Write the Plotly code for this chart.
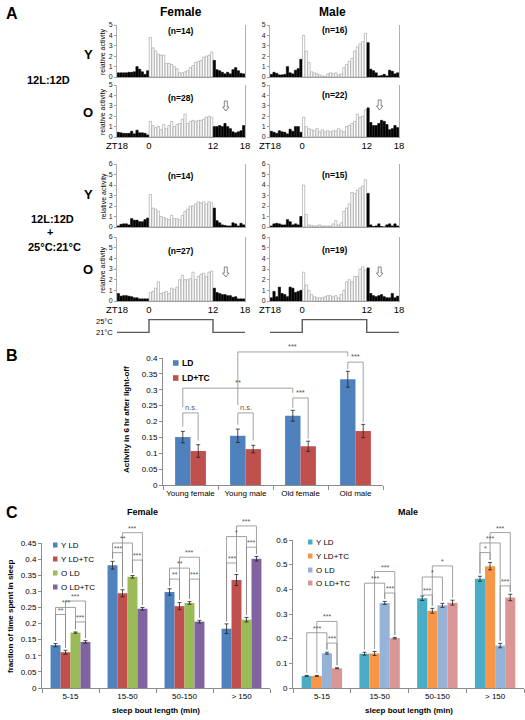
import plotly.graph_objects as go

W, H = 525, 720
FONT = "Liberation Sans, Arial, Helvetica, sans-serif"


def PX(v):
    return v / W


def PY(v):
    return 1 - v / H


# ---------------- Panel A data (relative activity, 30-min bins from ZT18) ----------------
zt_tick_hours = [0, 6, 18, 24]
zt_tick_labels = ["ZT18", "0", "12", "18"]
bin_hours = [i * 0.5 + 0.25 for i in range(48)]
lights_on = [6, 18]

female_young_ld = [0.4, 0.4, 0.4, 0.4, 0.45, 0.45, 0.5, 1.0, 0.75, 0.5, 0.25, 0.6,
                   3.8, 2.8, 2.5, 2.2, 2.1, 2.1, 1.3, 1.3, 1.2, 1.0, 0.8, 0.4,
                   0.4, 0.5, 0.6, 0.9, 1.1, 1.4, 1.5, 1.6, 1.9, 2.0, 2.1, 2.4,
                   1.6, 0.7, 0.6, 0.45, 0.3, 0.45, 0.3, 0.7, 0.9, 0.6, 0.35, 0.3]
female_old_ld = [0.45, 0.4, 0.35, 0.35, 0.35, 0.55, 0.3, 0.65, 0.4, 0.4, 0.35, 0.2,
                 1.5, 1.1, 0.9, 1.0, 0.7, 1.2, 0.8, 1.1, 1.5, 1.0, 1.2, 1.3,
                 1.7, 2.2, 1.3, 1.5, 1.6, 1.5, 1.6, 1.6, 1.7, 1.9, 2.0, 1.9,
                 1.0, 1.0, 1.1, 1.0, 1.3, 1.0, 0.8, 0.5, 0.4, 0.5, 0.6, 1.1]
male_young_ld = [0.25, 0.45, 0.35, 0.2, 0.2, 0.25, 1.0, 0.4, 0.3, 0.65, 0.8, 1.7,
                 4.0, 2.5, 1.4, 0.5, 0.4, 0.3, 0.2, 0.1, 0.05, 0.3, 0.4, 0.3,
                 0.4, 0.2, 0.3, 0.9, 1.2, 1.5, 1.8, 2.5, 2.9, 3.2, 3.4, 4.2,
                 3.3, 0.75, 0.6, 0.4, 0.1, 0.15, 0.25, 0.1, 0.65, 0.55, 0.3, 0.4]
male_old_ld = [0.55, 0.45, 0.35, 0.6, 0.5, 0.45, 0.3, 0.75, 0.55, 1.0, 1.0, 0.45,
               1.9, 1.0, 0.8, 0.7, 0.6, 0.8, 0.5, 0.7, 0.5, 0.6, 0.5, 0.6,
               0.6, 0.8, 0.6, 0.5, 1.0, 1.1, 1.3, 1.5, 2.2, 1.9, 2.0, 2.6,
               2.8, 1.4, 1.1, 1.1, 1.3, 1.6, 1.5, 1.2, 0.7, 0.8, 1.1, 0.9]
female_young_tc = [0.1, 0.25, 0.3, 0.3, 0.2, 0.8, 0.65, 0.65, 0.5, 0.5, 0.7, 0.85,
                   3.1, 1.8, 1.7, 1.5, 1.0, 0.9, 0.8, 0.7, 1.1, 0.8, 0.8, 0.7,
                   1.1, 1.5, 1.7, 2.0, 2.0, 2.2, 2.4, 2.3, 2.4, 2.2, 2.4, 2.3,
                   1.8, 0.6, 0.4, 0.2, 0.15, 0.1, 0.1, 0.4, 0.3, 0.1, 0.35, 0.2]
female_old_tc = [0.7, 0.45, 0.5, 0.5, 0.45, 0.4, 0.3, 0.3, 0.2, 0.2, 0.2, 0.2,
                 0.8, 0.9, 1.2, 1.8, 0.7, 0.8, 0.9, 0.7, 1.2, 1.1, 1.3, 2.0,
                 2.4, 2.0, 2.0, 2.1, 2.7, 2.0, 2.3, 2.5, 2.6, 2.3, 2.7, 2.8,
                 1.2, 0.8, 0.7, 0.6, 0.6, 0.5, 0.5, 0.35, 0.4, 0.2, 0.2, 0.2]
male_young_tc = [0.1, 0.3, 0.35, 0.3, 0.2, 0.2, 0.7, 0.5, 0.2, 0.3, 0.2, 1.0,
                 4.0, 1.2, 0.2, 0.15, 0.1, 0.1, 0.2, 0.1, 0.1, 0.1, 0.1, 0.3,
                 0.6, 0.2, 0.4, 1.5, 1.8, 2.2, 3.3, 3.2, 3.5, 3.7, 3.9, 4.5,
                 3.2, 0.2, 0.05, 0.1, 0.3, 0.05, 0.0, 0.2, 0.3, 0.1, 0.3, 0.1]
male_old_tc = [0.3, 0.9, 0.4, 1.3, 0.7, 0.6, 0.4, 1.3, 1.2, 0.8, 0.9, 1.0,
               2.7, 1.5, 1.0, 0.6, 0.4, 0.3, 0.3, 0.3, 0.4, 0.5, 0.5, 0.4,
               0.5, 0.3, 0.6, 1.0, 1.8, 2.0, 1.8, 2.3, 2.3, 3.0, 3.2, 2.9,
               3.1, 0.7, 0.5, 0.4, 0.5, 0.6, 0.4, 0.3, 0.3, 0.7, 0.3, 0.45]

temp_hours = [0, 6, 18, 24]
temp_values = [21, 25, 21, 21]

# ---------------- Panel B data ----------------
b_groups = ["Young female", "Young male", "Old female", "Old male"]
b_ld = [0.151, 0.155, 0.218, 0.333]
b_ld_err = [0.018, 0.021, 0.017, 0.025]
b_tc = [0.107, 0.113, 0.122, 0.170]
b_tc_err = [0.020, 0.012, 0.016, 0.021]
b_yticks = [0, 0.05, 0.1, 0.15, 0.2, 0.25, 0.3, 0.35, 0.4]
b_yticklabels = ["0", "0.05", "0.1", "0.15", "0.2", "0.25", "0.3", "0.35", "0.4"]
# (group_a, bar_a, group_b, bar_b, level, label, leg_bottom_a, leg_bottom_b)
b_brackets = [
    (0, 0, 0, 1, 0.227, "n.s.", 0.184, 0.140),
    (1, 0, 1, 1, 0.227, "n.s.", 0.190, 0.140),
    (2, 0, 2, 1, 0.274, "***", 0.243, 0.146),
    (3, 0, 3, 1, 0.387, "***", 0.364, 0.198),
    (0, 0, 2, 0, 0.305, "**", 0.245, 0.290),
    (1, 0, 3, 0, 0.419, "***", 0.252, 0.405),
]

# ---------------- Panel C data ----------------
c_groups = ["5-15", "15-50", "50-150", "> 150"]
c_series = ["Y LD", "Y LD+TC", "O LD", "O LD+TC"]
cf_y_ld = [0.133, 0.381, 0.298, 0.184]
cf_y_ld_err = [0.005, 0.012, 0.010, 0.015]
cf_y_tc = [0.111, 0.294, 0.254, 0.335]
cf_y_tc_err = [0.006, 0.011, 0.011, 0.017]
cf_o_ld = [0.172, 0.345, 0.264, 0.212]
cf_o_ld_err = [0.002, 0.004, 0.004, 0.007]
cf_o_tc = [0.143, 0.246, 0.206, 0.401]
cf_o_tc_err = [0.004, 0.004, 0.004, 0.007]

cm_y_ld = [0.049, 0.139, 0.364, 0.443]
cm_y_ld_err = [0.002, 0.006, 0.009, 0.010]
cm_y_tc = [0.049, 0.140, 0.313, 0.494]
cm_y_tc_err = [0.002, 0.008, 0.010, 0.015]
cm_o_ld = [0.141, 0.345, 0.335, 0.172]
cm_o_ld_err = [0.004, 0.006, 0.008, 0.009]
cm_o_tc = [0.080, 0.202, 0.346, 0.367]
cm_o_tc_err = [0.002, 0.003, 0.010, 0.013]

cf_yticks = [0, 0.05, 0.1, 0.15, 0.2, 0.25, 0.3, 0.35, 0.4, 0.45]
cf_yticklabels = ["0", "0.05", "0.1", "0.15", "0.2", "0.25", "0.3", "0.35", "0.4", "0.45"]
cm_yticks = [0, 0.1, 0.2, 0.3, 0.4, 0.5, 0.6]
cm_yticklabels = ["0", "0.1", "0.2", "0.3", "0.4", "0.5", "0.6"]

# (group, bar_a, bar_b, level, label)
cf_brackets = [
    (0, 0, 1, 0.228, "**"), (0, 0, 2, 0.250, "***"), (0, 1, 3, 0.270, "***"), (0, 2, 3, 0.205, "***"),
    (1, 0, 1, 0.420, "***"), (1, 0, 2, 0.450, "**"), (1, 1, 3, 0.482, "***"), (1, 2, 3, 0.397, "***"),
    (2, 0, 1, 0.338, "**"), (2, 0, 2, 0.372, "**"), (2, 1, 3, 0.406, "***"), (2, 2, 3, 0.338, "***"),
    (3, 0, 1, 0.388, "***"), (3, 0, 2, 0.470, "*"), (3, 1, 3, 0.503, "***"), (3, 2, 3, 0.437, "***"),
]
cm_brackets = [
    (0, 0, 2, 0.224, "***"), (0, 1, 3, 0.270, "***"), (0, 2, 3, 0.182, "***"),
    (1, 0, 2, 0.425, "***"), (1, 1, 3, 0.472, "***"), (1, 2, 3, 0.385, "***"),
    (2, 0, 1, 0.377, "***"), (2, 0, 2, 0.450, "*"), (2, 1, 3, 0.495, "*"),
    (3, 0, 1, 0.549, "*"), (3, 0, 2, 0.588, "***"), (3, 1, 3, 0.630, "***"), (3, 2, 3, 0.414, "***"),
]

# ---------------- styling ----------------
B_COLORS = ["#4F81BD", "#C0504D"]
CF_COLORS = ["#4F81BD", "#C0504D", "#9BBB59", "#8064A2"]
CM_COLORS = ["#4BACC6", "#F79646", "#95B3D7", "#D99694"]
AX_GRAY = "#8c8c8c"

fig = go.Figure()
layout = dict(
    template="none",
    width=W, height=H, autosize=False,
    margin=dict(l=0, r=0, t=0, b=0, pad=0, autoexpand=False),
    paper_bgcolor="white", plot_bgcolor="white", showlegend=False,
    barmode="overlay", font=dict(family=FONT, color="black", size=8),
)
annotations = []
shapes = []
axis_count = [0]


def new_axes(xdom, ydom, xkw, ykw):
    axis_count[0] += 1
    n = axis_count[0]
    sfx = "" if n == 1 else str(n)
    xid, yid = "x" + sfx, "y" + sfx
    layout["xaxis" + sfx] = dict(domain=xdom, anchor=yid, showgrid=False, zeroline=False,
                                 automargin=False, **xkw)
    layout["yaxis" + sfx] = dict(domain=ydom, anchor=xid, showgrid=False, zeroline=False,
                                 automargin=False, **ykw)
    return xid, yid


def ann(text, x, y, size=8, bold=False, xanchor="center", yanchor="middle", angle=0,
        color="black", xref="paper", yref="paper"):
    annotations.append(dict(
        text=("<b>%s</b>" % text) if bold else text, x=x, y=y, xref=xref, yref=yref,
        showarrow=False, xanchor=xanchor, yanchor=yanchor, textangle=angle,
        font=dict(family=FONT, size=size, color=color)))


def mapper(xdom, xr, ydom, yr):
    def f(x, y):
        return (xdom[0] + (x - xr[0]) / (xr[1] - xr[0]) * (xdom[1] - xdom[0]),
                ydom[0] + (y - yr[0]) / (yr[1] - yr[0]) * (ydom[1] - ydom[0]))
    return f


def bracket(m, xa, xb, level, ya, yb, label, color="#8a8a8a", lsize=7):
    x1, y1 = m(xa, ya)
    _, yh = m(xa, level)
    x2, y2 = m(xb, yb)
    shapes.append(dict(type="path", xref="paper", yref="paper",
                       path="M %f %f L %f %f L %f %f L %f %f" % (x1, y1, x1, yh, x2, yh, x2, y2),
                       line=dict(color=color, width=0.8)))
    annotations.append(dict(text=label, x=(x1 + x2) / 2, y=yh, xref="paper", yref="paper",
                            showarrow=False, xanchor="center", yanchor="bottom", yshift=-1,
                            font=dict(family=FONT, size=lsize, color="#555")))


def down_arrow(cx_px, top_px):
    # outlined down arrow, in pixel units converted to paper
    pts = [(-1.5, 0), (1.5, 0), (1.5, 6), (3.2, 6), (0, 10), (-3.2, 6), (-1.5, 6)]
    path = "M " + " L ".join("%f %f" % (PX(cx_px + dx), PY(top_px + dy)) for dx, dy in pts) + " Z"
    shapes.append(dict(type="path", xref="paper", yref="paper", path=path,
                       line=dict(color="#666", width=0.8), fillcolor="white"))


# ================= Panel A =================
ann("A", PX(4), PY(13), size=16, bold=True, xanchor="left")
ann("Female", PX(181), PY(12), size=12, bold=True)
ann("Male", PX(333), PY(12), size=12, bold=True)

ann("Y", PX(88), PY(55), size=13, bold=True)
ann("O", PX(88), PY(112), size=13, bold=True)
ann("12L:12D", PX(48), PY(80), size=11, bold=True)
ann("Y", PX(88), PY(195), size=13, bold=True)
ann("O", PX(88), PY(269), size=13, bold=True)
ann("12L:12D", PX(52), PY(219), size=11, bold=True)
ann("+", PX(50), PY(232), size=11, bold=True)
ann("25°C:21°C", PX(54), PY(247), size=11, bold=True)

col_x = [(117, 245), (270, 399)]
row_y = [(25, 77), (85, 137), (164, 227), (237, 301)]
hist_specs = [
    (female_young_ld, 0, 0, 5, "(n=14)", 31, None),
    (female_old_ld, 0, 1, 5, "(n=28)", 98, 101),
    (male_young_ld, 1, 0, 5, "(n=16)", 30, None),
    (male_old_ld, 1, 1, 5, "(n=22)", 95, 100),
    (female_young_tc, 0, 2, 6, "(n=14)", 176, None),
    (female_old_tc, 0, 3, 6, "(n=27)", 251, 267),
    (male_young_tc, 1, 2, 6, "(n=15)", 175, None),
    (male_old_tc, 1, 3, 6, "(n=19)", 250, 267),
]
bar_fill = ["white" if lights_on[0] <= h < lights_on[1] else "black" for h in bin_hours]
bar_edge = ["#9a9a9a" if lights_on[0] <= h < lights_on[1] else "black" for h in bin_hours]
arrow_hour = 20.4

for vals, col, row, ymax, nlab, ny, arrow_top in hist_specs:
    xdom = [PX(col_x[col][0]), PX(col_x[col][1])]
    ydom = [PY(row_y[row][1]), PY(row_y[row][0])]
    show_x = row in (1, 3)
    xid, yid = new_axes(
        xdom, ydom,
        dict(range=[0, 24], tickvals=zt_tick_hours, ticktext=zt_tick_labels,
             showticklabels=show_x, ticks="", showline=True, linecolor="#a0a0a0", linewidth=1,
             tickfont=dict(size=9.5, family=FONT, color="black")),
        dict(range=[0, ymax], tickvals=list(range(0, ymax + 1)), ticks="outside", ticklen=2,
             tickcolor="#a0a0a0", showline=True, linecolor="#b0b0b0", linewidth=1, mirror=True,
             tickfont=dict(size=7, family=FONT, color="#222")),
    )
    fig.add_trace(go.Bar(x=bin_hours, y=vals, width=0.42, xaxis=xid, yaxis=yid,
                         marker=dict(color=bar_fill, line=dict(color=bar_edge, width=0.6)),
                         hoverinfo="skip"))
    cx = (col_x[col][0] + col_x[col][1]) / 2
    ann("<b>%s</b>" % nlab, PX(cx - 0.5), PY(ny), size=8.5)
    if col == 0:
        ann("relative activity", PX(103), PY((row_y[row][0] + row_y[row][1]) / 2 + 1), size=7,
            angle=-90)
    if arrow_top is not None:
        ax_px = col_x[col][0] + arrow_hour / 24 * (col_x[col][1] - col_x[col][0])
        down_arrow(ax_px, arrow_top)

# temperature cycle traces
for col in (0, 1):
    xdom = [PX(col_x[col][0]), PX(col_x[col][1])]
    ydom = [PY(334), PY(318)]
    xid, yid = new_axes(xdom, ydom, dict(range=[0, 24], visible=False),
                        dict(range=[20.5, 25.5], visible=False))
    fig.add_trace(go.Scatter(x=temp_hours, y=temp_values, mode="lines", line_shape="hv",
                             line=dict(color="#5a5a5a", width=1.4), xaxis=xid, yaxis=yid,
                             hoverinfo="skip"))
ann("25°C", PX(115), PY(321), size=7.5, xanchor="right")
ann("21°C", PX(115), PY(332), size=7.5, xanchor="right")

# ================= Panel B =================
ann("B", PX(4), PY(355), size=16, bold=True, xanchor="left")
b_xdom = [PX(163), PX(383)]
b_ydom = [PY(485), PY(358)]
b_xr = [-0.5, 3.5]
b_yr = [0, 0.4]
bx, by = new_axes(
    b_xdom, b_ydom,
    dict(range=b_xr, tickvals=[0, 1, 2, 3], ticktext=b_groups, ticks="", showline=True,
         linecolor=AX_GRAY, tickfont=dict(size=8, family=FONT),
         minor=dict(tickmode="array", tickvals=[-0.5, 0.5, 1.5, 2.5, 3.5], ticks="outside",
                    ticklen=4, tickcolor=AX_GRAY)),
    dict(range=b_yr, tickvals=b_yticks, ticktext=b_yticklabels, ticks="outside", ticklen=3,
         tickcolor=AX_GRAY, showline=True, linecolor=AX_GRAY, tickfont=dict(size=8, family=FONT)),
)
b_pos = [0, 1, 2, 3]
b_w = 0.28
b_off = [-0.28, 0.0]
for k, (vals, errs) in enumerate([(b_ld, b_ld_err), (b_tc, b_tc_err)]):
    fig.add_trace(go.Bar(x=b_pos, y=vals, width=b_w, offset=b_off[k], xaxis=bx, yaxis=by,
                         marker=dict(color=B_COLORS[k], line=dict(width=0)),
                         error_y=dict(type="data", array=errs, color="#222", thickness=0.8, width=2),
                         hoverinfo="skip"))
bm = mapper(b_xdom, b_xr, b_ydom, b_yr)
for ga, ka, gb, kb, lev, lab, ya, yb in b_brackets:
    xa = b_pos[ga] + b_off[ka] + b_w / 2
    xb = b_pos[gb] + b_off[kb] + b_w / 2
    bracket(bm, xa, xb, lev, ya, yb, lab, lsize=7.5)
ann("Activity in 6 hr after light-off", PX(126), PY(420), size=8, bold=True, angle=-90)
for k, name in enumerate(["LD", "LD+TC"]):
    yy = [363, 378][k]
    shapes.append(dict(type="rect", xref="paper", yref="paper", x0=PX(173), x1=PX(178.5),
                       y0=PY(yy + 2.8), y1=PY(yy - 2.8), line=dict(width=0),
                       fillcolor=B_COLORS[k]))
    ann(name, PX(180), PY(yy), size=8.5, bold=True, xanchor="left")

# ================= Panel C =================
ann("C", PX(4), PY(512), size=16, bold=True, xanchor="left")
c_pos = [0, 1, 2, 3]
c_w = 0.175
c_off = [-0.35, -0.175, 0.0, 0.175]
c_xr = [-0.5, 3.5]


def c_panel(xpix, ypix_bottom, ypix_top, yr, yticks, yticklabels, series, errs, colors,
            brackets, title, title_x, leg_x, leg_y, gap):
    xdom = [PX(xpix[0]), PX(xpix[1])]
    ydom = [PY(ypix_bottom), PY(ypix_top)]
    xid, yid = new_axes(
        xdom, ydom,
        dict(range=c_xr, tickvals=c_pos, ticktext=c_groups, ticks="", showline=True,
             linecolor=AX_GRAY, tickfont=dict(size=8, family=FONT),
             minor=dict(tickmode="array", tickvals=[-0.5, 0.5, 1.5, 2.5, 3.5], ticks="outside",
                        ticklen=4, tickcolor=AX_GRAY)),
        dict(range=yr, tickvals=yticks, ticktext=yticklabels, ticks="outside", ticklen=3,
             tickcolor=AX_GRAY, showline=True, linecolor=AX_GRAY, tickfont=dict(size=8, family=FONT)),
    )
    for k in range(4):
        fig.add_trace(go.Bar(x=c_pos, y=series[k], width=c_w, offset=c_off[k], xaxis=xid,
                             yaxis=yid, marker=dict(color=colors[k], line=dict(width=0)),
                             error_y=dict(type="data", array=errs[k], color="#222",
                                          thickness=0.8, width=2),
                             hoverinfo="skip"))
    m = mapper(xdom, c_xr, ydom, yr)
    for g, a, b, lev, lab in brackets:
        xa = c_pos[g] + c_off[a] + c_w / 2
        xb = c_pos[g] + c_off[b] + c_w / 2
        ya = series[a][g] + errs[a][g] + gap
        yb = series[b][g] + errs[b][g] + gap
        bracket(m, xa, xb, lev, ya, yb, lab, lsize=7)
    ann(title, PX(title_x), PY(512), size=9, bold=True)
    ann("sleep bout length (min)", PX((xpix[0] + xpix[1]) / 2), PY(710), size=8, bold=True)
    for k, name in enumerate(c_series):
        yy = leg_y[k]
        shapes.append(dict(type="rect", xref="paper", yref="paper", x0=PX(leg_x),
                           x1=PX(leg_x + 4.5), y0=PY(yy + 2.5), y1=PY(yy - 2.5),
                           line=dict(width=0), fillcolor=colors[k]))
        ann(name, PX(leg_x + 5.5), PY(yy), size=8, xanchor="left")


c_panel((42, 270), 688, 543, [0, 0.45], cf_yticks, cf_yticklabels,
        [cf_y_ld, cf_y_tc, cf_o_ld, cf_o_tc], [cf_y_ld_err, cf_y_tc_err, cf_o_ld_err, cf_o_tc_err],
        CF_COLORS, cf_brackets, "Female", 142, 53, [545, 559, 573, 587], 0.008)
c_panel((293, 524), 688, 540, [0, 0.6], cm_yticks, cm_yticklabels,
        [cm_y_ld, cm_y_tc, cm_o_ld, cm_o_tc], [cm_y_ld_err, cm_y_tc_err, cm_o_ld_err, cm_o_tc_err],
        CM_COLORS, cm_brackets, "Male", 408, 308, [542, 556, 570, 583], 0.01)
ann("fraction of time spent in sleep", PX(10), PY(617), size=8, bold=True, angle=-90)

layout["annotations"] = annotations
layout["shapes"] = shapes
fig.update_layout(**layout)
fig.write_html("out.html", config={"displayModeBar": False, "staticPlot": True},
               post_script="document.body.style.margin='0';")
